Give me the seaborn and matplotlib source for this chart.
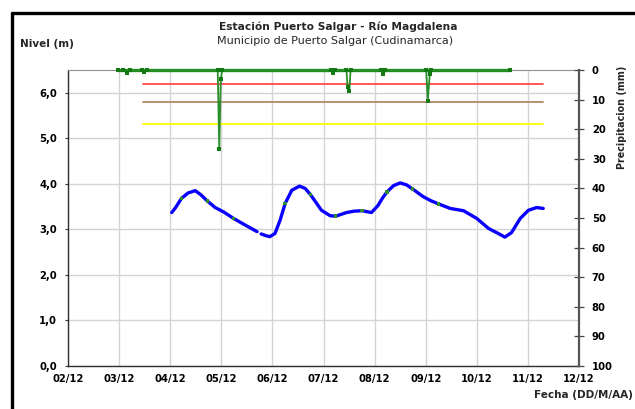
import numpy as np
import pandas as pd
import matplotlib.pyplot as plt
from matplotlib.lines import Line2D
import seaborn as sns

sns.set_style('white')
plt.rcParams['font.family'] = ['DejaVu Sans']

# eje x en dias desde el 02/12
fecha_etiquetas = ['02/12', '03/12', '04/12', '05/12', '06/12', '07/12',
                   '08/12', '09/12', '10/12', '11/12', '12/12']

# nivel del rio (m), dos tramos (hay un corte cerca del 05/12)
nivel_dia = [2.03, 2.10, 2.22, 2.35, 2.49, 2.60, 2.73, 2.88, 3.05, 3.24, 3.46, 3.70,
             3.78, 3.88, 3.95, 4.05, 4.15, 4.25, 4.38, 4.53, 4.64, 4.74, 4.86, 4.96,
             5.13, 5.24, 5.45, 5.60, 5.75, 5.94, 6.07, 6.15, 6.24, 6.37, 6.50, 6.62,
             6.74, 6.95, 7.10, 7.25, 7.48, 7.74, 8.00, 8.23, 8.42, 8.55, 8.68, 8.85,
             9.01, 9.17, 9.30]
nivel_m = [3.37, 3.47, 3.68, 3.80, 3.85, 3.76, 3.62, 3.48, 3.38, 3.24, 3.10, 2.95,
           2.90, 2.86, 2.84, 2.91, 3.20, 3.57, 3.86, 3.95, 3.90, 3.77, 3.58, 3.42,
           3.30, 3.29, 3.37, 3.40, 3.41, 3.37, 3.53, 3.68, 3.82, 3.96, 4.02, 3.98,
           3.89, 3.72, 3.63, 3.56, 3.46, 3.41, 3.24, 3.02, 2.91, 2.83, 2.93, 3.24,
           3.42, 3.48, 3.46]
nivel_tramo = [1] * 12 + [2] * 39

# lecturas marcadas en verde sobre la curva
obs_dia = [2.22, 2.73, 3.24, 4.25, 4.74, 5.24, 5.75, 6.24, 6.74, 7.25]
obs_m = [3.68, 3.62, 3.24, 3.57, 3.77, 3.29, 3.41, 3.82, 3.89, 3.56]

# precipitacion (mm), eje invertido
precip_dia = [0.98, 1.08, 1.15, 1.22, 1.44, 1.49, 1.54, 2.93, 2.96, 2.99, 3.02,
              5.15, 5.19, 5.23, 5.45, 5.47, 5.505, 5.53, 6.13, 6.17, 6.21,
              7.01, 7.04, 7.08, 7.11, 8.65]
precip_mm = [0, 0, 0.9, 0, 0, 0.8, 0, 0, 26.6, 2.9, 0,
             0, 0.9, 0, 0, 5.6, 7.1, 0, 0, 1.5, 0,
             0, 10.4, 1.4, 0, 0]

# umbrales de alerta (m)
umbral_nombre = ['roja', 'naranja', 'amarilla']
umbral_m = [6.19, 5.80, 5.31]
umbral_color = ['#FF4B4B', '#B08A66', '#FFFF00']
umbral_dias = [1.46, 9.29]

df_nivel = pd.DataFrame({'dia': nivel_dia, 'nivel': nivel_m, 'tramo': nivel_tramo})
df_precip = pd.DataFrame({'dia': precip_dia, 'mm': precip_mm})

fig = plt.figure(figsize=(6.35, 4.09), dpi=100)
ax = fig.add_axes([68 / 635, 1 - 366 / 409, 511 / 635, 296 / 409])

ax.grid(True, color='#D4D4D4', lw=1)
ax.set_axisbelow(True)

for m, c in zip(umbral_m, umbral_color):
    ax.plot(umbral_dias, [m, m], color=c, lw=1.3, zorder=2)

sns.lineplot(data=df_nivel, x='dia', y='nivel', units='tramo', estimator=None,
             color='#0A00FF', lw=2.4, ax=ax, zorder=3)
sns.scatterplot(x=obs_dia, y=obs_m, color='#2E8B2E', s=6, marker='s',
                edgecolor='none', ax=ax, zorder=4)

ax.set_xlim(0, 10)
ax.set_ylim(0, 6.5)
ax.set_xticks(range(len(fecha_etiquetas)))
ax.set_xticklabels(fecha_etiquetas)
ax.set_yticks(np.arange(0, 7))
ax.set_yticklabels([f'{v:.1f}'.replace('.', ',') for v in range(7)])
ax.set_xlabel('')
ax.set_ylabel('')
ax.tick_params(axis='x', labelsize=7.2, length=2.5, width=0.8, direction='out',
               colors='#333333', labelcolor='black', pad=3.5)
ax.tick_params(axis='y', labelsize=7.2, length=2.5, width=0.8, direction='out',
               colors='#333333', labelcolor='black', pad=5.5)
for lab in ax.get_xticklabels() + ax.get_yticklabels():
    lab.set_fontweight('bold')

for s in ['left', 'bottom']:
    ax.spines[s].set_color('#303030')
    ax.spines[s].set_linewidth(1.0)
ax.spines['top'].set_color('#909090')
ax.spines['right'].set_visible(False)

ax2 = ax.twinx()
# linea base del registro de lluvia
ax2.plot([precip_dia[0], precip_dia[-1]], [0, 0], color='#1E8C1E', lw=2.4,
         clip_on=False, zorder=5)
sns.lineplot(data=df_precip, x='dia', y='mm', estimator=None, color='#2A8F2A',
             lw=1.3, marker='s', markersize=2.6, markeredgewidth=0,
             markerfacecolor='#127A12', ax=ax2, clip_on=False, zorder=6)
ax2.set_ylim(100, 0)
ax2.set_yticks(range(0, 101, 10))
ax2.set_ylabel('')
ax2.tick_params(axis='y', labelsize=7.2, length=6.5, width=0.9, direction='inout',
                colors='#444444', labelcolor='black', pad=6)
for lab in ax2.get_yticklabels():
    lab.set_fontweight('bold')
ax2.spines['right'].set_color('#555555')
ax2.spines['right'].set_linewidth(1.6)
for s in ['left', 'top', 'bottom']:
    ax2.spines[s].set_visible(False)
ax2.grid(False)

fig.text(338 / 635, 1 - 30 / 409, 'Estación Puerto Salgar - Río Magdalena',
         ha='center', va='baseline', fontsize=7.65, fontweight='bold')
fig.text(335 / 635, 1 - 44.5 / 409, 'Municipio de Puerto Salgar (Cudinamarca)',
         ha='center', va='baseline', fontsize=8)
fig.text(20 / 635, 1 - 47 / 409, 'Nivel (m)', ha='left', va='baseline',
         fontsize=7.5, fontweight='bold')
fig.text(633 / 635, 1 - 398 / 409, 'Fecha (DD/M/AA)', ha='right', va='baseline',
         fontsize=7.5, fontweight='bold')
fig.text(622 / 635, 1 - 117 / 409, 'Precipitacion (mm)', ha='center', va='center',
         rotation=90, fontsize=6.9, fontweight='bold')

# marco negro del grafico
fig.add_artist(Line2D([11.7 / 635, 11.7 / 635], [1 - 13 / 409, -0.1],
                      transform=fig.transFigure, color='black', lw=2.4))
fig.add_artist(Line2D([11.7 / 635, 1.1], [1 - 13.3 / 409, 1 - 13.3 / 409],
                      transform=fig.transFigure, color='black', lw=2.4))

fig.savefig('out.png', dpi=100)
